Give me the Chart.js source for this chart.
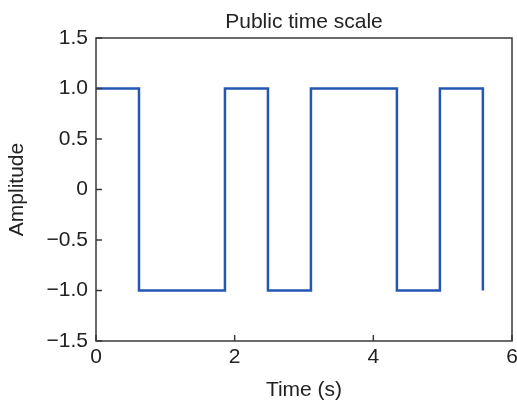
<!DOCTYPE html>
<html>
<head>
<meta charset="utf-8">
<script src="https://cdn.jsdelivr.net/npm/chart.js@4/dist/chart.umd.min.js"></script>
<style>
html,body{margin:0;padding:0;background:#fff;}
#wrap{width:517px;height:403px;}
</style>
</head>
<body>
<div id="wrap"><canvas id="c" width="517" height="403"></canvas></div>
<script>
// Data
const chartTitle = 'Public time scale';
const stepTimes = [0, 0.62, 1.86, 2.48, 3.10, 4.34, 4.96, 5.58];
const stepLevels = [1, -1, 1, -1, 1, -1, 1, -1];
const yTickValues = [-1.5, -1.0, -0.5, 0, 0.5, 1.0, 1.5];
const xTickValues = [0, 2, 4, 6];

const FONT = "'Liberation Sans', Arial, sans-serif";
const TEXT = '#222';
const AXIS = '#3a3a3a';

function fmtY(v) {
  if (Math.abs(v) < 1e-9) return '0';
  const s = Math.abs(v).toFixed(1);
  return (v < 0 ? '\u2212' : '') + s;
}

const framePlugin = {
  id: 'frame',
  afterDraw(chart) {
    const {ctx, chartArea: a, scales} = chart;
    ctx.save();
    ctx.strokeStyle = AXIS;
    ctx.lineWidth = 1.5;
    ctx.strokeRect(a.left, a.top, a.right - a.left, a.bottom - a.top);
    ctx.beginPath();
    yTickValues.forEach(v => {
      const y = scales.y.getPixelForValue(v);
      ctx.moveTo(a.left, y); ctx.lineTo(a.left + 6, y);
    });
    xTickValues.forEach(v => {
      const x = scales.x.getPixelForValue(v);
      ctx.moveTo(x, a.bottom); ctx.lineTo(x, a.bottom - 6);
    });
    ctx.stroke();
    // title centred over the plot area
    ctx.fillStyle = TEXT;
    ctx.font = '21px ' + FONT;
    ctx.textAlign = 'center';
    ctx.textBaseline = 'alphabetic';
    ctx.fillText(chartTitle, (a.left + a.right) / 2, 28);
    ctx.restore();
  }
};

new Chart(document.getElementById('c'), {
  type: 'line',
  data: {
    datasets: [{
      data: stepTimes.map((t, i) => ({x: t, y: stepLevels[i]})),
      stepped: 'before',
      borderColor: '#2457b2',
      borderWidth: 2.5,
      pointRadius: 0,
      fill: false
    }]
  },
  options: {
    responsive: false,
    animation: false,
    devicePixelRatio: 1,
    layout: {padding: {left: 0, right: 5, top: 38, bottom: 0}},
    plugins: {
      legend: {display: false},
      tooltip: {enabled: false},
      title: {display: false}
    },
    scales: {
      x: {
        type: 'linear',
        min: 0, max: 6,
        afterBuildTicks(s) { s.ticks = xTickValues.map(v => ({value: v})); },
        afterFit(s) { s.height = 62; s.paddingLeft = 0; s.paddingRight = 0; },
        grid: {display: false, drawTicks: false},
        border: {display: false},
        ticks: {
          color: TEXT, padding: 4, maxRotation: 0,
          font: {family: FONT, size: 21},
          callback: v => String(v)
        },
        title: {
          display: true, text: 'Time (s)', color: TEXT,
          font: {family: FONT, size: 21},
          padding: {top: 0, bottom: 0}
        }
      },
      y: {
        type: 'linear',
        min: -1.5, max: 1.5,
        afterBuildTicks(s) { s.ticks = yTickValues.map(v => ({value: v})); },
        afterFit(s) { s.width = 96; s.paddingTop = 0; s.paddingBottom = 0; },
        grid: {display: false, drawTicks: false},
        border: {display: false},
        ticks: {
          color: TEXT, padding: 8,
          font: {family: FONT, size: 21},
          callback: v => fmtY(v)
        },
        title: {
          display: true, text: 'Amplitude', color: TEXT,
          font: {family: FONT, size: 21},
          padding: {top: 5, bottom: 0}
        }
      }
    }
  },
  plugins: [framePlugin]
});
</script>
</body>
</html>
